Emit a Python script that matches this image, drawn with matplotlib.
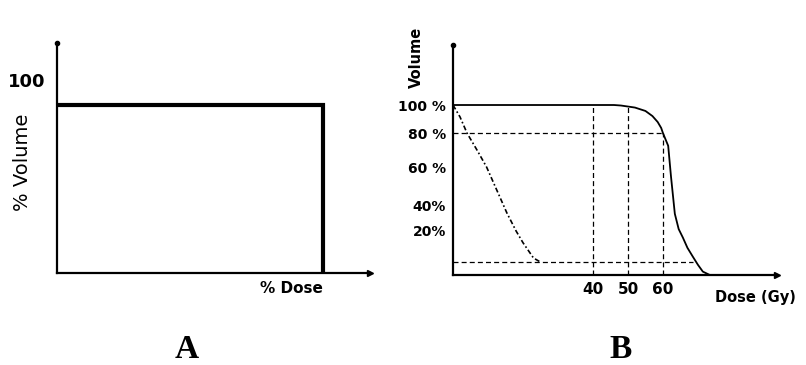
import numpy as np
from matplotlib import pyplot as plt

# 面板A：理想DVH
a_step_x = [0, 100, 100]
a_step_y = [100, 100, 0]

# 面板B：DVH曲线 (Gy, %)
target_dose = [0, 30, 40, 46, 48, 52, 55, 57, 58.5, 59.5, 60, 61.5, 62.3, 63.4, 64.5, 65.7, 67, 68.6, 70, 71.4, 73.4]
target_vol = [100, 100, 100, 100, 99.7, 98.5, 96.5, 93.5, 90, 86.5, 83.5, 76, 58, 36, 27, 22, 16, 10.6, 6, 2, 0]
oar_dose = [0, 2, 4, 7, 9.6, 12.5, 15.4, 18, 20, 22, 23, 25]
oar_vol = [100, 93, 83.5, 73, 63.5, 50, 36.5, 26, 19, 13, 10, 7.6]

ytick_pos = [100, 83.5, 63, 41, 26]
ytick_lab = ['100 %', '80 %', '60 %', '40%', '20%']
xtick_pos = [40, 50, 60]
xtick_lab = ['40', '50', '60']
low_level = 7.5

W, H = 806, 365
fig = plt.figure(figsize=(W / 100, H / 100), dpi=100)


def px_axes(x0, y0, x1, y1):
    # 像素坐标 -> figure坐标
    return fig.add_axes([x0 / W, 1 - y1 / H, (x1 - x0) / W, (y1 - y0) / H])


def style_axes(ax):
    for s in ['top', 'right']:
        ax.spines[s].set_visible(False)
    for s in ['left', 'bottom']:
        ax.spines[s].set_linewidth(1.6)
        ax.spines[s].set_color('black')
    ax.tick_params(length=0)
    xmax = ax.get_xlim()[1]
    ymax = ax.get_ylim()[1]
    ax.plot([xmax], [0], marker='>', color='black', markersize=5, clip_on=False)
    ax.plot([0], [ymax], marker='o', color='black', markersize=3, clip_on=False)


# ---- A ----
axA = px_axes(57, 43, 370, 273)
axA.set_xlim(0, 117.7)
axA.set_ylim(0, 136.9)
axA.plot(a_step_x, a_step_y, color='black', lw=3, solid_joinstyle='miter')
axA.set_yticks([115])
axA.set_yticklabels(['100'], fontsize=13, fontweight='bold')
axA.tick_params(axis='y', pad=8)
axA.set_xticks([])
axA.text(-12.8, 66, '% Volume', rotation=90, ha='center', va='center', fontsize=14, clip_on=False)
axA.text(100, -9, '% Dose', ha='right', va='center', fontsize=11, fontweight='bold')
style_axes(axA)

# ---- B ----
axB = px_axes(453, 45, 777, 275)
axB.set_xlim(0, 92.6)
axB.set_ylim(0, 135.3)
axB.plot(target_dose, target_vol, color='black', lw=1.3)
axB.plot(oar_dose, oar_vol, color='black', lw=1.2, linestyle=(0, (3, 1.5, 1, 1.5)))
dash = dict(color='black', lw=0.9, linestyle=(0, (4, 2.5)))
axB.plot([0, 60], [83.5, 83.5], **dash)
axB.plot([0, 68.6], [low_level, low_level], **dash)
axB.plot([40, 40], [0, 100], **dash)
axB.plot([50, 50], [0, 100], **dash)
axB.plot([60, 60], [0, 83.5], **dash)
axB.set_yticks(ytick_pos)
axB.set_yticklabels(ytick_lab, fontsize=10, fontweight='bold')
axB.set_xticks(xtick_pos)
axB.set_xticklabels(xtick_lab, fontsize=11, fontweight='bold')
axB.tick_params(axis='y', pad=5)
axB.tick_params(axis='x', pad=5)
axB.text(-10.5, 128, 'Volume', rotation=90, ha='center', va='center', fontsize=10.5, fontweight='bold')
axB.text(86.5, -13.5, 'Dose (Gy)', ha='center', va='center', fontsize=10.5, fontweight='bold', clip_on=False)
style_axes(axB)

fig.text(187 / W, 1 - 349 / H, 'A', ha='center', va='center', fontsize=24, fontweight='bold',
         family='Liberation Serif')
fig.text(621 / W, 1 - 349 / H, 'B', ha='center', va='center', fontsize=24, fontweight='bold',
         family='Liberation Serif')

plt.savefig('out.png', dpi=100)
